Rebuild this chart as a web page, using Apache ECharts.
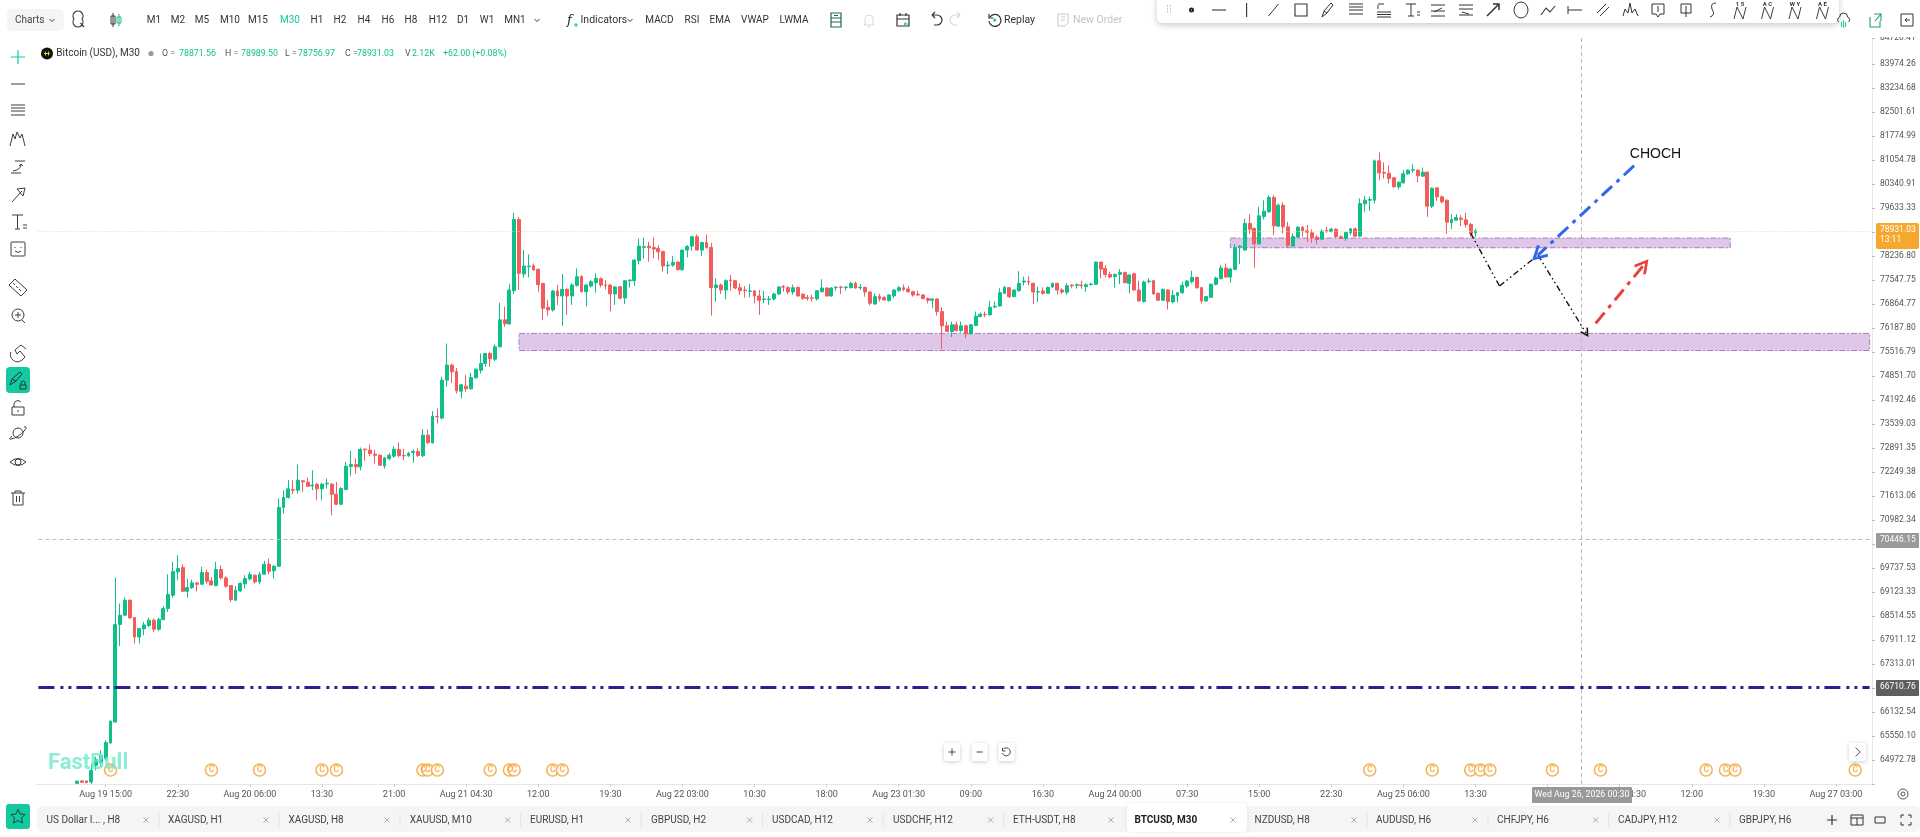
<!DOCTYPE html>
<html><head><meta charset="utf-8">
<style>html,body{margin:0;padding:0;background:#fff}#c{width:1920px;height:837px}#ic{position:absolute;left:0;top:0;pointer-events:none}</style>
<script src="https://cdn.jsdelivr.net/npm/echarts@6/dist/echarts.min.js"></script>
</head><body><div id="c"></div><svg id="ic" width="1920" height="837"></svg>
<script>
// --- candle values, Aug 19 12:00 onward, 30 minute bars (first bar sits 8 slots into the axis)
const opens=[
64393,64449,64449,64425,64821,64877,64981,65358,65866,68272,
68507,68887,68448,67961,68163,68246,68381,68154,68398,68676,
69013,69610,69721,69115,69208,69328,69294,69593,69379,69260,
69670,69456,69260,68887,69123,69302,69430,69525,69353,69550,
69807,69636,69755,71280,71543,71754,71737,71985,71949,71851,
71887,71772,71905,71896,71631,71367,71754,72365,72418,72356,
72829,72802,72695,72668,72383,72579,72642,72820,72660,72651,
72740,72767,72651,73206,72999,73713,73668,74705,75120,74944,
74403,74540,74467,74770,74981,75166,75443,75286,75629,76384,
76272,77209,79261,77684,77893,77922,77817,77417,76739,76664,
77200,77059,77247,77059,77360,77608,77181,77342,77436,77551,
77370,77370,77115,77323,77002,77493,77493,78065,78449,78487,
78449,78420,78334,77922,77941,78026,77807,78372,78487,78757,
78372,78593,78449,77294,77370,77228,77512,77493,77294,77228,
77190,77200,77059,76955,76955,76974,77115,77323,77294,77172,
77304,77106,77012,77002,76974,77181,77285,77059,77294,77313,
77294,77294,77417,77294,77304,77172,76833,77040,77012,76927,
77059,77209,77294,77257,77181,77106,77087,76984,76936,76974,
76617,76216,76058,76244,76086,76216,75993,76225,76476,76542,
76523,76748,76777,77134,77294,77040,77209,77455,77474,77417,
77172,77200,77134,77313,77417,77228,77162,77370,77360,77370,
77323,77379,77389,78026,77845,77674,77608,77674,77731,77417,
77693,77228,76899,77465,77493,77134,76936,77228,76889,77068,
77153,77342,77465,77589,77294,76917,77021,77389,77551,77855,
77598,77817,78468,78372,79145,78999,78554,79348,79485,79905,
79067,79680,79047,78487,78747,79037,78931,78873,78747,78689,
78940,78912,78979,78757,78708,78873,78989,78776,79719,79827,
79827,80992,80645,80625,80486,80220,80338,80605,80715,80715,
80536,80655,79651,80190,79925,79827,79164,79242,79300,79251,
79115,78871.56];
const closes=[
64441,64417,64409,64701,64957,65061,65366,65882,68272,68507,
68887,68440,67961,68171,68263,68381,68154,68398,68676,69030,
69618,69695,69115,69208,69328,69294,69593,69371,69277,69670,
69456,69243,68904,69140,69319,69439,69541,69353,69550,69807,
69627,69755,71280,71543,71772,71737,72002,71958,71843,71869,
71772,71896,71922,71631,71367,71780,72374,72418,72356,72820,
72811,72713,72668,72400,72597,72668,72829,72660,72651,72722,
72767,72660,73206,73008,73713,73704,74705,75120,74935,74412,
74577,74467,74779,75009,75166,75443,75295,75629,76384,76272,
77228,79261,77703,77912,77912,77798,77379,76711,76664,77200,
77059,77247,77059,77370,77608,77181,77370,77465,77560,77370,
77360,77115,77313,76993,77493,77512,78084,78487,78468,78439,
78401,78324,77912,77941,78017,77807,78372,78478,78757,78372,
78593,78439,77294,77370,77228,77493,77493,77285,77209,77209,
77200,77059,76936,76974,76974,77115,77313,77313,77172,77294,
77059,76993,76993,76993,77209,77285,77059,77285,77304,77304,
77313,77417,77285,77304,77172,76852,77040,76974,76946,77087,
77228,77294,77247,77181,77087,77087,76984,76936,76974,76617,
76216,76058,76244,76086,76216,75993,76244,76486,76542,76532,
76739,76767,77153,77304,77040,77228,77417,77484,77455,77172,
77181,77134,77304,77417,77228,77172,77351,77351,77379,77351,
77379,77398,78026,77826,77674,77598,77674,77731,77436,77655,
77228,76917,77455,77484,77115,76936,77247,76899,77077,77153,
77360,77484,77589,77294,76917,77040,77389,77570,77855,77598,
77826,78449,78487,79145,78979,78554,79368,79504,79905,79076,
79680,79047,78497,78766,79037,78931,78892,78728,78679,78921,
78921,78979,78757,78718,78883,78989,78776,79729,79827,79846,
80992,80635,80625,80467,80220,80358,80605,80715,80725,80546,
80655,79651,80180,79925,79778,79183,79261,79319,79261,79115,
78854,78931.03];
const lows=[
64380,64400,64395,64377,64701,64781,64941,65342,65850,67736,
68490,68424,67795,67795,68003,68213,68087,68112,68381,68591,
68954,69396,69098,68954,69174,69115,69268,69311,69260,69243,
69413,69208,68845,68870,69098,69183,69396,69311,69294,69533,
69550,69439,69740,71122,71516,71631,71648,71693,71825,71737,
71472,71472,71781,71080,71340,71340,71737,72108,72178,72267,
72517,72642,72445,72383,72311,72535,72606,72606,72535,72624,
72472,72624,72624,72963,72981,73521,73631,74522,74632,74339,
74201,74385,74449,74751,74889,75074,75074,75240,75610,76188,
76245,77115,77228,77579,77589,77779,77181,76384,76495,76617,
76805,76216,76523,76805,77323,77153,76758,77304,77153,77304,
77247,76617,76805,76965,76833,77295,77342,77960,78132,78036,
78132,78084,77750,77684,77893,77798,77779,78161,78353,78372,
78199,78420,76504,76899,77115,76965,77209,77247,77087,77012,
77021,76852,76523,76852,76805,76927,77087,77181,77106,77096,
77040,76946,76927,76899,76927,77153,77040,77040,77209,77115,
77209,77276,77266,77228,77040,76796,76805,76899,76927,76899,
76993,77181,77190,77153,77040,77059,76965,76852,76711,76504,
75564,76040,75900,76058,76030,75872,75965,76216,76458,76458,
76504,76711,76758,77115,77002,77021,77181,77360,77360,76833,
76889,77096,77115,77285,77096,77115,77087,77276,77266,77266,
77181,77360,77370,77560,77589,77560,77294,77398,77417,77134,
77209,76899,76871,77417,77096,76917,76917,76674,76852,76871,
77115,77276,77417,77266,76843,76899,77002,77360,77531,77579,
77436,77798,77969,78353,78834,77864,78535,79261,79455,78805,
79047,78854,78449,78449,78728,78757,78612,78583,78545,78660,
78873,78883,78728,78699,78641,78805,78757,78757,79485,79514,
79729,80417,80467,80318,80200,80141,80318,80585,80635,80348,
80516,79339,79592,79807,79729,78844,78989,79222,79067,79028,
78757,78756.97];
const highs=[
64465,64465,64460,64861,65021,65181,65422,65906,69465,68802,
68954,68904,68465,68180,68339,68448,68423,68448,68735,69550,
69867,70039,69807,69439,69413,69353,69738,69670,69481,69867,
69781,69499,69265,69243,69336,69525,69610,69541,69610,69893,
69953,69781,71517,71735,72002,72002,72418,72002,72072,72267,
71931,71931,72046,71931,71950,71820,72490,72784,72579,72873,
72847,72954,72820,72686,72624,72731,72909,73008,72829,72758,
72820,72847,73368,73359,73860,73933,74797,75722,75166,75046,
74596,74843,74907,75027,75443,75461,75489,75695,76865,76758,
77401,79455,79339,78372,78245,77988,77845,77436,76946,77228,
77370,77684,77276,77417,77845,77655,77389,77512,77703,77589,
77512,77389,77342,77342,77512,77531,78103,78708,78737,78612,
78737,78516,78353,78055,78199,78045,78391,78516,78776,78825,
78612,78825,78583,77560,77417,77531,77655,77512,77417,77342,
77398,77228,77228,77200,77059,77153,77342,77370,77342,77379,
77323,77134,77087,77087,77228,77531,77304,77304,77342,77342,
77342,77465,77465,77398,77323,77190,77134,77115,77059,77106,
77247,77342,77389,77342,77209,77209,77106,77012,76993,76993,
76739,76337,76337,76337,76337,76244,76272,76617,76589,76617,
76918,76899,77276,77342,77313,77247,77769,77608,77626,77436,
77323,77304,77323,77436,77436,77276,77417,77389,77417,77493,
77417,77436,78045,78045,77941,77750,77693,77826,77750,77684,
77722,77493,77493,77560,77512,77153,77266,77247,77228,77172,
77465,77512,77779,77608,77323,77059,77417,77608,77941,77988,
77855,78545,78516,79281,79416,79028,79631,79827,79974,79974,
79729,79768,79193,78854,79057,79067,79096,78970,78805,78970,
79047,79018,78999,78796,78902,79018,79028,79876,79954,79925,
81032,81242,80943,80864,80516,80378,80715,80735,80893,80735,
80795,80675,80200,80200,79964,79846,79416,79416,79387,79455,
79164,78989.50];

// --- axes
const firstCandleSlot=8, slotCount=382, firstLabelSlot=14, labelEvery=15;
const xTickLabels=['Aug 19 15:00','22:30','Aug 20 06:00','13:30','21:00','Aug 21 04:30','12:00','19:30','Aug 22 03:00','10:30','18:00','Aug 23 01:30','09:00','16:30','Aug 24 00:00','07:30','15:00','22:30','Aug 25 06:00','13:30','21:00','Aug 26 04:30','12:00','19:30','Aug 27 03:00'];
const yTickLabels=['84720.41','83974.26','83234.68','82501.61','81774.99','81054.78','80340.91','79633.33','78936.00','78236.80','77547.75','76864.77','76187.80','75516.79','74851.70','74192.46','73539.03','72891.35','72249.38','71613.06','70982.34','70357.00','69737.53','69123.33','68514.55','67911.12','67313.01','66720.00','66132.54','65550.10','64972.78'];
const yTicksUnderFlags=['78936.00','70357.00','66720.00'];
const yMin=64377, yMax=84742;
const logStep=Math.pow(83974.26,1/1282);

// --- drawn levels and annotations (prices and axis slots)
const lastPrice=78931.03, crossPrice=70446.15, supportLine=66710.76, crossSlot=321;
const zoneUpper={from:248,to:352,top:78720,bottom:78440};
const zoneLower={from:100,to:381,top:76003,bottom:75525};
const pathBlack=[[298,78865],[304,77340],[312,78228],[322,76012]];
const arrowBlue=[[332,80847],[312,78228]];
const arrowRed=[[324,76284],[334,77941]];
const chochPoint=[331,81195];
const eventSlots=[15,36,46,59,62,80,81,83,94,98,99,107,109,277,290,298,300,302,315,325,347,351,353,378];
const eventLevel=64710;

// --- text of the page furniture
const GREEN='#12c08f';
const timeframes=[['M1',154],['M2',178],['M5',202],['M10',230],['M15',258],['M30',290],['H1',317],['H2',340],['H4',364],['H6',388],['H8',411],['H12',438],['D1',463],['W1',487],['MN1',515]];
const studies=[['MACD',659.5],['RSI',692],['EMA',720],['VWAP',755],['LWMA',794]];
const tabs=[['US Dollar I... , H8',46.5,146],['XAGUSD, H1',168,266],['XAGUSD, H8',288.4,387],['XAUUSD, M10',409.7,507.6],['EURUSD, H1',530,628],['GBPUSD, H2',651,749.5],['USDCAD, H12',772,870],['USDCHF, H12',893,990.6],['ETH-USDT, H8',1013,1111],['BTCUSD, M30',1134.5,1233],['NZDUSD, H8',1254.5,1354],['AUDUSD, H6',1376,1475],['CHFJPY, H6',1497,1595.6],['CADJPY, H12',1618,1717],['GBPJPY, H6',1739,null]];
const legendParts=[['O =',162,'#555'],['78871.56',179,GREEN],['H =',225,'#555'],['78989.50',241,GREEN],['L =',285,'#555'],['78756.97',298,GREEN],['C =',345,'#555'],['78931.03',357,GREEN],['V',405,'#555'],['2.12K',412,GREEN],['+62.00 (+0.08%)',443,GREEN]];

const categories=[];
(function(){const t0=Date.UTC(2026,7,19,8,0);for(let i=0;i<slotCount;i++){categories.push(new Date(t0+i*1800000).toISOString().slice(5,16));}})();
const candleData=categories.map((c,i)=>{const k=i-firstCandleSlot;return k>=0&&k<opens.length?[opens[k],closes[k],lows[k],highs[k]]:['-','-','-','-'];});

const UP='#0fbf8a', DOWN='#f25c5c', UI='Roboto';
const G=[]; let svg='';
function T(x,y,text,o){o=o||{};G.push({type:'text',x:x,y:y,z:o.z||110,silent:true,style:{text:text,fill:o.color||'#333',font:(o.weight||'normal')+' '+(o.size||10.5)+'px '+(o.family||UI),textAlign:o.align||'left',textVerticalAlign:'middle',align:o.align||'left',verticalAlign:'middle',opacity:o.opacity==null?1:o.opacity}});}
function R(x,y,w,h,fill,o){o=o||{};G.push({type:'rect',z:o.z||105,silent:true,shape:{x:x,y:y,width:w,height:h,r:o.r||0},style:{fill:fill,stroke:o.stroke||null,lineWidth:o.lw||0,shadowBlur:o.blur||0,shadowColor:o.shadow||'transparent',shadowOffsetY:o.off||0}});}
function I(x,y,d,o){o=o||{};svg+='<path transform="translate('+x+','+y+')" d="'+d+'" fill="'+(o.fill||'none')+'" stroke="'+(o.stroke===undefined?'#3c3c3c':(o.stroke||'none'))+'" stroke-width="'+(o.lw||1)+'"/>';}

// header band
R(0,0,1920,37,'#fff');
R(7,9,57,22,'#f4f5f6',{r:5});
T(15,20,'Charts',{size:10,color:'#444'});
I(52,20,'M-2.5,-1L0,1.5L2.5,-1');
I(78,19,'M-4,0A5,5,0,1,1,4,0A5,5,0,1,1,-4,0M2.5,4L6,8',{lw:1.2});
I(113,20,'M0,-7V7M-2,-4H2V4H-2Z',{stroke:'#333'});
I(119,20,'M0,-6V6M-2,-3H2V3H-2Z',{stroke:'#12c08f'});
timeframes.forEach(t=>T(t[1],20,t[0],{align:'center',color:t[0]==='M30'?'#12c9a0':'#333',size:10}));
I(537,20,'M-2.5,-1L0,1.5L2.5,-1');
T(567,21,'f',{size:13,family:'DejaVu Serif',color:'#222',weight:'italic'});
I(576,25,'M-2,0H2M0,-2V2',{stroke:'#12c08f',lw:1});
T(580.5,20,'Indicators',{size:10.5});
I(630,20,'M-2.5,-1L0,1.5L2.5,-1');
studies.forEach(t=>T(t[1],20,t[0],{align:'center',size:10}));
I(836,20,'M-5,-7H5V7H-5ZM-5,-2H5M-5,2H5M-2,-4.5H2',{stroke:'#1a6b5c',lw:1.2});
I(869,20,'M-4,4V-1A4,4,0,0,1,4,-1V4L5,5H-5ZM-1,7H1',{stroke:'#d8d8d8'});
I(903,20,'M-6,-5H6V6H-6ZM-6,-1H6M-3,-7V-4M3,-7V-4',{stroke:'#333',lw:1.2});
I(907,24,'M-3,0H3M-3,0L-1,-2M-3,0L-1,2',{stroke:'#12c08f'});
I(936,20,'M-4,-5H1A5,5,0,0,1,1,5H-2M-4,-5L-1,-8M-4,-5L-1,-2',{stroke:'#333',lw:1.2});
I(956,20,'M4,-5H-1A5,5,0,0,0,-1,5H2M4,-5L1,-8M4,-5L1,-2',{stroke:'#d8d8d8',lw:1.2});
I(995,20,'M-5,-3A6,6,0,1,1,-6,1M-6,-6V-2H-2',{stroke:'#333',lw:1.2});
I(995,20,'M-1.5,-2L2,0L-1.5,2Z',{stroke:null,fill:'#12c08f'});
T(1004,20,'Replay',{size:10.5});
I(1063,20,'M-5,-6H5V3L2,6H-5ZM-2,-3H2M-2,0H2',{stroke:'#c8c8c8'});
T(1073,20,'New Order',{size:10.5,color:'#c4c4c4'});
I(1843.6,20,'M-5,2A3,3,0,0,1,-4,-3A4,4,0,0,1,4,-3A3,3,0,0,1,5,2',{stroke:'#333'});
I(1843.6,21,'M0,-1V7M-2,1V6M2,1V6',{stroke:'#12c9a0'});
I(1875,20,'M-5,-3V7H5V1M-1,-6H6V1M6,-6L0,1',{stroke:'#1c9a80',lw:1.1});
I(1907,20,'M-6,-6H6V6H-6ZM3,0H-2M-2,0L0,-2M-2,0L0,2',{stroke:'#333'});
// floating drawing bar
R(1157,-6,682,29,'#fff',{r:5,blur:6,shadow:'rgba(0,0,0,0.22)',off:2,z:106});
const barIcons=[[1168,'M-1,-4H0M2,-4H3M-1,-1H0M2,-1H3M-1,2H0M2,2H3',0.9,'#888'],[1191.5,'M-1.5,0A1.5,1.5,0,1,1,1.5,0A1.5,1.5,0,1,1,-1.5,0',2,'#222'],[1219,'M-7,0H7',1.1],[1246.6,'M0,-7V7',1.1],[1273.5,'M-5,6L5,-6',1],[1301,'M-6,-6H6V6H-6Z',1.1],[1328,'M-6,7L-4,1L3,-7L5,-5L-1,3ZM-4,1L-1,3',1],[1356,'M-7,-6H7M-7,-3H7M-7,0H7M-7,4H7',1.1],[1384,'M-7,2H7M-7,4.5H7M-7,7H7M-6,-1V-5M-6,-6H0',1],[1411,'M-5,-6H5M0,-6V6M-3,6H3M6,2H9M6,5H9',1],[1438,'M-7,-5H7M-7,6H7M-4,2L4,-2M-7,1H7',1],[1466,'M-7,-5H7M-7,-1H7M-7,5H7M-4,2L3,4',1],[1493,'M-6,6L5,-5M0,-6L6,-6L6,0',1.5],[1521,'M-7,0A7,8,0,1,1,7,0A7,8,0,1,1,-7,0',1],[1548,'M-7,5L-2,-2L2,2L7,-4',1.1],[1575,'M-7,-4V4M-7,0H7',1],[1603,'M-6,3L3,-6M-3,6L6,-3',1],[1631,'M-8,6L-6,-1L-3,3L-1,-7L1,3L4,-1L7,6',1],[1658,'M-6,-6H6V4H2L0,7L-2,4H-6ZM0,-4V2',1],[1686,'M-5,-6H5V3H-5ZM0,-4V7',1],[1713,'M3,-7Q-3,-7,-1,-1Q3,5,-3,7',1]];
barIcons.forEach(b=>I(b[0],10,b[1],{lw:b[2],stroke:b[3]||'#333'}));
[['1 5',1740],['A C',1767.5],['W Y',1795],['A E',1822.5]].forEach(w=>{T(w[1],4.5,w[0],{align:'center',size:6,weight:'bold',z:112});I(w[1],13,'M-6,6L-3,-6L3,6L6,-6');});

// legend row
G.push({type:'circle',z:110,silent:true,shape:{cx:47,cy:53.5,r:6},style:{fill:'#111'}});
I(47,53.5,'M-3,0H3M-1.5,-2V2M1.5,-2V2',{stroke:'#e8c820',lw:1});
T(56.3,53.5,'Bitcoin (USD), M30',{size:10,color:'#333'});
G.push({type:'circle',z:110,silent:true,shape:{cx:151,cy:53.5,r:2.6},style:{fill:'#9a9a9a'}});
legendParts.forEach(p=>T(p[1],53.5,p[0],{size:8.8,color:p[2]}));

// left tools
I(18,57,'M-7,0H7M0,-7V7',{stroke:'#12c9a0',lw:1.2});
const sideIcons=[[84,'M-7,0H7'],[111,'M-7,-6H7M-7,-3H7M-7,0H7M-7,4H7'],[139,'M-8,7L-5,-5L-3,0L-1,-7L2,-1L4,-5L7,7'],[167,'M-7,6H3M-3,-6H7M-5,4Q2,3,3,-2M1,-1L3,-3L5,-1'],[195,'M-6,7L4,-4M-1,-6L7,-7L5,1Z'],[222,'M-6,-7H5M-0.5,-7V7M-3,7H2M5,3H9M5,6H9'],[249,'M-6,-7H6A1,1,0,0,1,7,-6V6A1,1,0,0,1,6,7H-6A1,1,0,0,1,-7,6V-6A1,1,0,0,1,-6,-7ZM-3,-2V-1M3,-2V-1M-3,2Q0,5,3,2'],[287,'M-9,-2L-3,-8L9,3L3,9ZM-5,-4L-3,-2M-2,-1L0,1M1,2L3,4'],[315,'M-6,0A6,6,0,1,1,6,0A6,6,0,1,1,-6,0M-3,0H3M0,-3V3M4,5L7,8'],[353,'M-7,-1A7,7,0,0,0,4,7L7,4L2,-2L-1,1L-3,-3L3,-8L8,-4'],[408,'M-6,-1H6V7H-6ZM-4,-1V-4A4,4,0,0,1,3,-6M0,2V4'],[433,'M-5,0A5,5,0,1,1,5,0A5,5,0,1,1,-5,0M-6,3Q-10,7,-7,6Q0,5,7,-3Q10,-7,6,-6'],[462,'M-8,0Q0,-7,8,0Q0,7,-8,0ZM-3,0A3,3,0,1,1,3,0A3,3,0,1,1,-3,0'],[498,'M-7,-5H7M-5,-5V7H5V-5M-3,-5V-7H3V-5M-1.5,-2V4M1.5,-2V4']];
sideIcons.forEach(s=>I(18,s[0],s[1],{lw:1}));
R(6,367,24,26,'#14c9a0',{r:4});
I(16,379,'M-6,6L-4,0L4,-7L6,-5L0,2ZM-4,0L0,2',{stroke:'#143c34'});
I(23,385,'M-3,0H3V4H-3ZM-2,0V-2A2,2,0,0,1,2,-2V0',{stroke:'#143c34'});

// watermark, chart buttons
T(48,763,'FastBull',{size:22,weight:'bold',color:'#6fe8cb',opacity:0.8});
[[952,'M-3.5,0H3.5M0,-3.5V3.5'],[979.6,'M-3,0H3'],[1006.5,'M-3,-3A4,4,0,1,1,-4,1M-4,-4V-1H-1']].forEach(b=>{R(b[0]-8,743,16,18,'#fff',{r:2,blur:4,shadow:'rgba(0,0,0,0.2)',off:1});I(b[0],752,b[1],{stroke:'#444'});});
R(1849,743,17,18,'#fff',{r:2,blur:4,shadow:'rgba(0,0,0,0.2)',off:1});
I(1857.7,752,'M-2,-4.5L2.5,0L-2,4.5',{stroke:'#444'});

// price and time flags
R(1876,223,43,26,'#f5a82e',{r:2});
T(1880,230,'78931.03',{size:8.5,color:'#fff'});
T(1880,240,'13:11',{size:8.5,color:'#fff'});
R(1876,533,43,15,'#9a9a9a',{r:1});
T(1880,540.3,'70446.15',{size:8.5,color:'#fff'});
R(1876,680,43,16,'#5f5f5f',{r:1});
T(1880,687,'66710.76',{size:8.5,color:'#fff'});
R(1532,787,100,16,'#999',{r:1});
T(1582,795,'Wed Aug 26, 2026 00:30',{size:8.8,color:'#fff',align:'center'});
I(1903,794,'M-5,0A5,5,0,1,1,5,0A5,5,0,1,1,-5,0M-2,0A2,2,0,1,1,2,0A2,2,0,1,1,-2,0',{stroke:'#555'});

// tab strip
R(37,806,1883,26,'#f4f5f6',{r:5});
R(6,804,24,25,'#14c9a0',{r:3});
I(18,816.5,'M0,-7L2,-2.5L7,-2L3.5,1.5L4.5,6.5L0,4L-4.5,6.5L-3.5,1.5L-7,-2L-2,-2.5Z',{stroke:'#144c40'});
R(1127,803,120,29,'#fff',{r:4,blur:4,shadow:'rgba(0,0,0,0.08)',z:106});
tabs.forEach((t,i)=>{const on=t[0]==='BTCUSD, M30';T(t[1],820,t[0],{size:10,color:on?'#222':'#444',weight:on?'bold':'normal',z:112});
 if(t[2]){I(t[2],820,'M-2.5,-2.5L2.5,2.5M2.5,-2.5L-2.5,2.5',{stroke:'#999',lw:0.8});
 if(!on&&tabs[i+1]&&tabs[i+1][0]!=='BTCUSD, M30')G.push({type:'line',z:107,silent:true,shape:{x1:t[2]+13,y1:813,x2:t[2]+13,y2:827},style:{stroke:'#e4e4e4',lineWidth:1}});}});
I(1832,820,'M-5,0H5M0,-5V5',{stroke:'#333',lw:1.2});
I(1857,820,'M-6,-5H6V5H-6ZM-6,-2H6M0,-2V5',{stroke:'#333'});
I(1880,820,'M-5,-3H5V3H-5Z',{stroke:'#333'});
I(1906,820,'M-5,-2V-5H-2M2,-5H5V-2M5,2V5H2M-2,5H-5V2',{stroke:'#333'});
document.getElementById('ic').innerHTML=svg;

const chevron='path://M50,0 L100,85 L86,97 L50,34 L14,97 L0,85 Z';
function seg(a,b,color,width,dash,head,size){return [{coord:a,symbol:'none',lineStyle:{color:color,width:width,type:dash}},{coord:b,symbol:head||'none',symbolSize:size||0}];}
function level(v,color,width,dash){return seg([0,v],[slotCount-1,v],color,width,dash);}
const blackDash=[6,3,1.5,3,1.5,3];
const isLabelled=i=>(i-firstLabelSlot)%labelEvery===0&&i>=firstLabelSlot;

const chart=echarts.init(document.getElementById('c'));
chart.setOption({
 animation:false,backgroundColor:'#fff',
 grid:{left:36,right:48,top:38,bottom:53,containLabel:false},
 xAxis:{type:'category',data:categories,boundaryGap:true,
  axisLine:{lineStyle:{color:'#e6e6e6'}},splitLine:{show:false},
  axisTick:{show:true,alignWithLabel:true,length:3,lineStyle:{color:'#cfcfcf'},interval:isLabelled},
  axisLabel:{interval:isLabelled,hideOverlap:false,
   formatter:(v,i)=>xTickLabels[(i-firstLabelSlot)/labelEvery]||'',color:'#555',fontSize:9,fontFamily:UI,margin:6}},
 yAxis:{type:'log',logBase:logStep,min:yMin,max:yMax,position:'right',scale:true,interval:1,splitNumber:30,
  axisLine:{show:true,lineStyle:{color:'#e6e6e6'}},splitLine:{show:false},
  axisTick:{show:true,length:3,lineStyle:{color:'#bbb'}},
  axisLabel:{show:true,showMinLabel:true,showMaxLabel:true,color:'#555',fontSize:8.5,fontFamily:UI,margin:8,
   formatter:v=>{let best='',d=1e9;yTickLabels.forEach(s=>{const e=Math.abs(+s-v);if(e<d){d=e;best=s;}});return (d>200||yTicksUnderFlags.includes(best))?'':best;}}},
 graphic:{elements:G},
 series:[
  {name:'BTCUSD',type:'candlestick',data:candleData,barWidth:3.4,z:3,
   itemStyle:{color:UP,color0:DOWN,borderColor:UP,borderColor0:DOWN,borderWidth:1},
   markArea:{silent:true,z:1,itemStyle:{color:'rgba(208,172,222,0.68)',borderColor:'#a87cc0',borderWidth:1,borderType:[6,2,2,2]},
    data:[zoneUpper,zoneLower].map(z=>[{coord:[z.from,z.top]},{coord:[z.to,z.bottom]}])},
   markLine:{silent:true,symbol:'none',animation:false,label:{show:false},precision:2,data:[
    level(lastPrice,'#f6cf9f',1,[1,2]),
    level(crossPrice,'#bbbbbb',1,[4,3]),
    seg([crossSlot,yMax],[crossSlot,yMin],'#bbbbbb',1,[4,3]),
    seg([0,supportLine],[slotCount-1,supportLine],'#2a1f8f',3,[16,6,3,5,3,5]),
    seg(pathBlack[0],pathBlack[1],'#111',1.4,blackDash),
    seg(pathBlack[1],pathBlack[2],'#111',1.4,blackDash),
    seg(pathBlack[2],pathBlack[3],'#111',1.4,blackDash,chevron,9),
    seg(arrowBlue[0],arrowBlue[1],'#2f66ea',3,[14,6,4,6],chevron,16),
    seg(arrowRed[0],arrowRed[1],'#e8403c',3,[14,6,4,6],chevron,15)
   ]},
   markPoint:{silent:true,animation:false,data:[{coord:chochPoint,symbol:'circle',symbolSize:1,itemStyle:{color:'transparent'},
    label:{show:true,position:'right',distance:0,formatter:'CHOCH',color:'#111',fontSize:14,fontFamily:'Liberation Sans'}}]}
  },
  {name:'Events',type:'scatter',z:5,data:eventSlots.map(s=>[s,eventLevel]),symbol:'circle',symbolSize:12,silent:true,
   itemStyle:{color:'#fff',borderColor:'#f2a12f',borderWidth:1.6},
   label:{show:true,position:'inside',formatter:'C',color:'#f2a12f',fontSize:8.5,fontWeight:'bold',fontFamily:UI}}
 ]
});
</script></body></html>
